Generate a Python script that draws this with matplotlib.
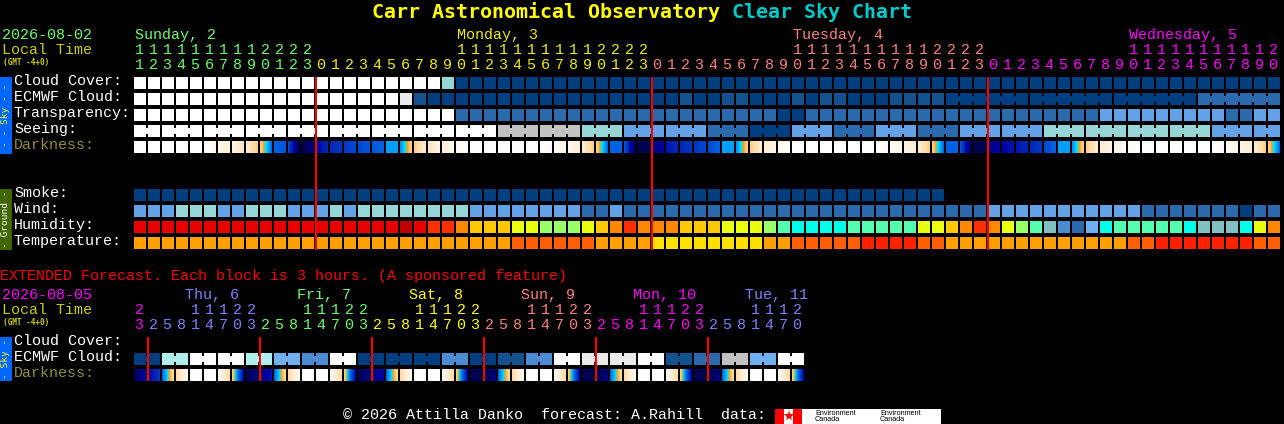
import matplotlib
matplotlib.use("Agg")
from matplotlib import pyplot as plt
from matplotlib.colors import LinearSegmentedColormap
import numpy as np

# block colour codes
palette = {
    "W": "#ffffff", "V": "#eaeaea", "G": "#c2c2c2", "C": "#96d6d6", "P": "#b0eeee",
    "D": "#003f7f", "E": "#13528f", "M": "#2a6aad", "L": "#63a2e6", "K": "#70b0f0",
    "B": "#4a8ccf", "R": "#e60000", "Q": "#bf0000", "O": "#ff2f00", "A": "#ff8800",
    "H": "#ffc800", "Y": "#eaff10", "N": "#99ff66", "F": "#55ffb0", "S": "#00ffe8",
    "T": "#80c0c0", "Z": "#ffa000", "X": "#ff5f00", "I": "#ffe000", "U": "#ff2000",
}

# main chart, one block per hour, written in tens
cloud_cover = "WWWWWWWWWW WWWWWWWWWW WWCDDDDDDD DDDDDDDDDD DDDDDDDDDD DDDDDDDDDD DDDDDDDDDD DDDDDDDDDD DD"
ecmwf_cloud = "WWWWWWWWWW WWWWWWWWWV EDDDDDDDDD DDDDDDDDDE DDEEDDDEDE EDDDEEEEDD DDDDDDDDDD DDDDDDMMMM MM"
transparency = "WWWWWWWWWW WWWWWWWWWW WWWMMMMMMM MMMMMMMMMM MMMMMMDDMM MMMMMMMMMM MMMMMMMMML LLLLLLLLMM LL"
seeing = "WWWWWWWWWW WWWWWWWWWW WWWWWWGGGG GGCCCLLLLL LMMMDDDLLL MMMLLLMMML LLLLLCCCCC CCCCCCCLLL LL"
smoke = "DDDDDDDDDD DDDDDDDDDD DDDDDDDDDD DDDDDDDDDD DDDDDDDDDD DDDDDDDD"
wind = "LLLCCCLLCC CLLLCLCCCC CCCCLLLLLL LLMMLMMMMM MMMMMMMMMM MMMMMMMMMM MLLLLLLLLL LLMMMMMMMD MM"
humidity = "RRRRRRRRRR RRRRRRRRRQ ROOAHHHYYN NNYHAOAAAH HHYYYNFSSS SFFFFFYYHA OAYNFTBMKS FFFFFSTTTS YA"
temperature = "ZZZZZZZZZZ ZZZZZZZZZZ ZZZZZZZXXX XXXZZZZIII IIIIIZZXXX XXUUUUXXZZ ZZZZZZZZZZ ZXXUUUUUUU XX"

# darkness: level at the left and right edge of each block
dark_left = [0, 0, 0, 0, 0, 0, 1, 1.5, 2, 3.5, 7, 8, 12, 10, 9, 8.5, 8, 7.5, 6, 6.2,
             3.5, 2.5, 2, 1, 0, 0, 0, 0, 0, 0, .5, 1, 2, 3.5, 7, 7.5, 12, 11, 9.5, 9,
             8.5, 8, 6, 6.2, 3.5, 2, 1, 0, 0, 0, 0, 0, 0, 0, .5, 1.5, 2, 3.5, 7, 7.5,
             12, 11, 10, 9.5, 9, 8, 6, 6.2, 3.5, 2, 1.5, .5, 0, 0, 0, 0, 0, 0, .5, 1.5,
             2, 3.5]
dark_right = [0, 0, 0, 0, 0, 1, 2, 2.5, 3.5, 6.8, 7.5, 12, 11, 9, 8.5, 8, 7.5, 7, 6, 3.5,
              2, 1.5, 1, .5, 0, 0, 0, 0, 0, .5, 1.5, 2, 3.5, 6.8, 7, 12, 12, 10, 9, 8.5,
              8, 7, 6, 3.5, 2, 1.5, .5, 0, 0, 0, 0, 0, 0, .5, 1.5, 2, 3.5, 6.8, 7, 12,
              12, 10, 9.5, 9, 8.5, 7, 6, 3.5, 2, 1.5, .5, 0, 0, 0, 0, 0, 0, .5, 1.5, 2,
              3.5, 6.8]

hours = [11, 12, 13, 14, 15, 16, 17, 18, 19, 20, 21, 22, 23,
         0, 1, 2, 3, 4, 5, 6, 7, 8, 9, 10, 11, 12, 13, 14, 15, 16, 17, 18, 19, 20, 21, 22, 23,
         0, 1, 2, 3, 4, 5, 6, 7, 8, 9, 10, 11, 12, 13, 14, 15, 16, 17, 18, 19, 20, 21, 22, 23,
         0, 1, 2, 3, 4, 5, 6, 7, 8, 9, 10, 11, 12, 13, 14, 15, 16, 17, 18, 19, 20]
day_names = ["Sunday, 2", "Monday, 3", "Tuesday, 4", "Wednesday, 5"]
day_first_block = [0, 13, 37, 61]
day_name_block = [0, 23, 47, 71]
day_colors = ["#66ff66", "#eeee00", "#ff7f7f", "#ff00ff"]
midnights = [13, 37, 61]

# extended forecast, two blocks per 3 hours
ext_ecmwf = ["D", "P", "W", "W", "P", "K", "B", "W", "D", "D", "D", "B",
             "D", "E", "B", "W", "V", "V", "W", "E", "M", "G", "K", "W"]
ext_dark_left = [12, 10, 7, 3, 0, 0, 1, 3.5, 12, 11, 7, 3, 0, 0, 1, 3.5, 12, 11, 7, 3, 0, 0, 1, 3.5,
                 12, 12, 7, 3, 0, 0, 1, 3.5, 12, 12, 7, 3, 0, 0, 1, 3.5, 12, 12, 7, 3, 0, 0, 1, 3.5]
ext_dark_right = [10, 8.5, 3, 1, 0, 0, 3, 10, 11, 9.5, 3, 1, 0, 0, 3, 10, 11, 10, 3, 1, 0, 0, 3, 10,
                  12, 11, 3, 1, 0, 0, 3, 10, 12, 11, 3, 1, 0, 0, 3, 10, 12, 11, 3, 1, 0, 0, 3, 10]
ext_hours = [23,
             2, 5, 8, 11, 14, 17, 20, 23,
             2, 5, 8, 11, 14, 17, 20, 23,
             2, 5, 8, 11, 14, 17, 20, 23,
             2, 5, 8, 11, 14, 17, 20, 23,
             2, 5, 8, 11, 14, 17, 20, 23,
             2, 5, 8, 11, 14, 17, 20]
ext_day_names = ["Thu, 6", "Fri, 7", "Sat, 8", "Sun, 9", "Mon, 10", "Tue, 11"]
ext_day_first = [0, 1, 9, 17, 25, 33, 41]
ext_colors = ["#ff00ff", "#7f7fff", "#66ff66", "#ffff00", "#ff7f7f", "#ff00ff", "#7f7fff"]
ext_midnights = [1, 9, 17, 25, 33, 41]

dark_cmap = LinearSegmentedColormap.from_list("dark", [
    (0 / 12, "#ffffff"), (1 / 12, "#fff8ee"), (2 / 12, "#ffedd4"), (3 / 12, "#ffdba6"),
    (4 / 12, "#ffc060"), (4.5 / 12, "#ff9a10"), (5 / 12, "#00e8ff"), (6 / 12, "#00a0ff"),
    (7 / 12, "#0064e6"), (8 / 12, "#0048d0"), (9 / 12, "#0028b8"), (10 / 12, "#0000a8"),
    (11 / 12, "#000080"), (12 / 12, "#000050")])

X0 = 134
STEP = 14
SIZE = 12
MONO = "Liberation Mono"

fig = plt.figure(figsize=(12.84, 4.24), dpi=100, facecolor="black")
ax = fig.add_axes([0, 0, 1, 1])
ax.set_facecolor("black")


def label(x, y, s, color="white", px=15, family=MONO, **kw):
    # y is the text baseline in image pixels
    kw.setdefault("va", "baseline")
    ax.text(x, y, s, color=color, fontsize=px * 0.72, family=family, **kw)


def box(x, h, w, top, color, **kw):
    ax.bar(x, h, w, bottom=top, align="edge", color=color, linewidth=0, snap=False, **kw)


def blocks(codes, top):
    codes = list("".join(codes.split()))
    x = X0 + STEP * np.arange(len(codes))
    box(x, SIZE, SIZE, top, [palette[c] for c in codes])
    return x, codes


def bridges(x, codes, top, pairs):
    # the notched joins between blocks of one model step
    for a, b in pairs:
        if b < len(codes):
            box(x[a] + SIZE, 6, 2, top + 3, palette[codes[a]])


def dark_row(left, right, top):
    for i, (a, b) in enumerate(zip(left, right)):
        x = X0 + STEP * i
        ax.imshow([np.linspace(a, b, SIZE)], extent=(x, x + SIZE, top + SIZE, top),
                  cmap=dark_cmap, vmin=0, vmax=12, aspect="auto", interpolation="nearest")


# main rows
blocks(cloud_cover, 77)
x, codes = blocks(ecmwf_cloud, 93)
bridges(x, codes, 93, [(i, i + 1) for i in range(58, 81) if (i - 58) % 6 != 5])
blocks(transparency, 109)
x, codes = blocks(seeing, 125)
bridges(x, codes, 125, [(i, i + 1) for i in range(0, 81) if (i - 2) % 3 != 2])
dark_row(dark_left, dark_right, 141)
blocks(smoke, 189)
blocks(wind, 205)
blocks(humidity, 221)
blocks(temperature, 237)

for m in midnights:
    box(X0 + STEP * m - 1, 173, 2, 77, "#ff0000", zorder=5)

# title
label(372, 18, "Carr Astronomical Observatory", "#ffff00", 20, "DejaVu Sans Mono", fontweight="bold")
label(732, 18, "Clear Sky Chart", "#00cccc", 20, "DejaVu Sans Mono", fontweight="bold")

# main header
label(2, 39, "2026-08-02", "#66ff66")
label(2, 54, "Local Time", "#cccc00")
label(3, 65, "(GMT -4+0)", "#cccc00", 7.8, "DejaVu Sans Mono", fontweight="bold")
for name, b, c in zip(day_names, day_name_block, day_colors):
    label(X0 + 1 + STEP * b, 39, name, c)
for i, h in enumerate(hours):
    c = day_colors[np.searchsorted(day_first_block, i, side="right") - 1]
    cx = X0 + STEP * i + 5
    if h >= 10:
        label(cx, 54, str(h // 10), c, ha="center")
    label(cx, 69, str(h % 10), c, ha="center")

for y, s, c in [(85, "Cloud Cover:", "white"), (101, "ECMWF Cloud:", "white"),
                (117, "Transparency:", "white"), (133, "Seeing:", "white"),
                (149, "Darkness:", "#8f8f2f"), (197, "Smoke:", "white"),
                (213, "Wind:", "white"), (229, "Humidity:", "white"),
                (245, "Temperature:", "white")]:
    label(14, y, s, c)

# side bars
box(0, 77, 12, 77, "#0066ff")
box(0, 61, 12, 189, "#3f6600")
box(0, 44, 12, 337, "#0066ff")
side = dict(rotation=90, ha="center", va="center")
label(6, 115, "- - Sky - -", "#ffff00", 9.5, "DejaVu Sans Mono", **side)
label(6, 219, "- Ground -", "white", 9.5, "DejaVu Sans Mono", **side)
label(6, 359, "- Sky -", "#ffff00", 9.5, "DejaVu Sans Mono", **side)

# extended forecast
label(0, 280, "EXTENDED Forecast. Each block is 3 hours. (A sponsored feature)", "#ff0000")
label(2, 299, "2026-08-05", "#ff00ff")
label(2, 314, "Local Time", "#cccc00")
label(3, 325, "(GMT -4+0)", "#cccc00", 7.8, "DejaVu Sans Mono", fontweight="bold")
for k, name in enumerate(ext_day_names):
    label(185 + 112 * k, 299, name, ext_colors[k + 1])
for i, h in enumerate(ext_hours):
    c = ext_colors[np.searchsorted(ext_day_first, i, side="right") - 1]
    cx = X0 + STEP * i + 5
    if h >= 10:
        label(cx, 314, str(h // 10), c, ha="center")
    label(cx, 329, str(h % 10), c, ha="center")
label(14, 345, "Cloud Cover:")
label(14, 361, "ECMWF Cloud:")
label(14, 377, "Darkness:", "#8f8f2f")

x, codes = blocks("".join(c * 2 for c in ext_ecmwf), 353)
bridges(x, codes, 353, [(i, i + 1) for i in range(0, 47, 2)])
dark_row(ext_dark_left, ext_dark_right, 369)
for m in ext_midnights:
    box(X0 + STEP * m - 1, 44, 2, 337, "#ff0000", zorder=5)

# footer and logos
label(343, 419, "\u00a9 2026 Attilla Danko  forecast: A.Rahill  data:")
box(775, 15, 166, 409, "white")
box([775, 793], 15, 9, 409, "#ff0000")
ax.plot([788.5], [416], marker="*", color="#ff0000", markersize=8, markeredgewidth=0)
for lx in (815, 880):
    ax.text(lx, 416.5, "Environment\nCanada", color="black", fontsize=5.2, va="center",
            family="Liberation Sans", linespacing=0.9)

ax.set_xlim(0, 1284)
ax.set_ylim(424, 0)
ax.axis("off")
fig.savefig("out.png", dpi=100, facecolor="black")
